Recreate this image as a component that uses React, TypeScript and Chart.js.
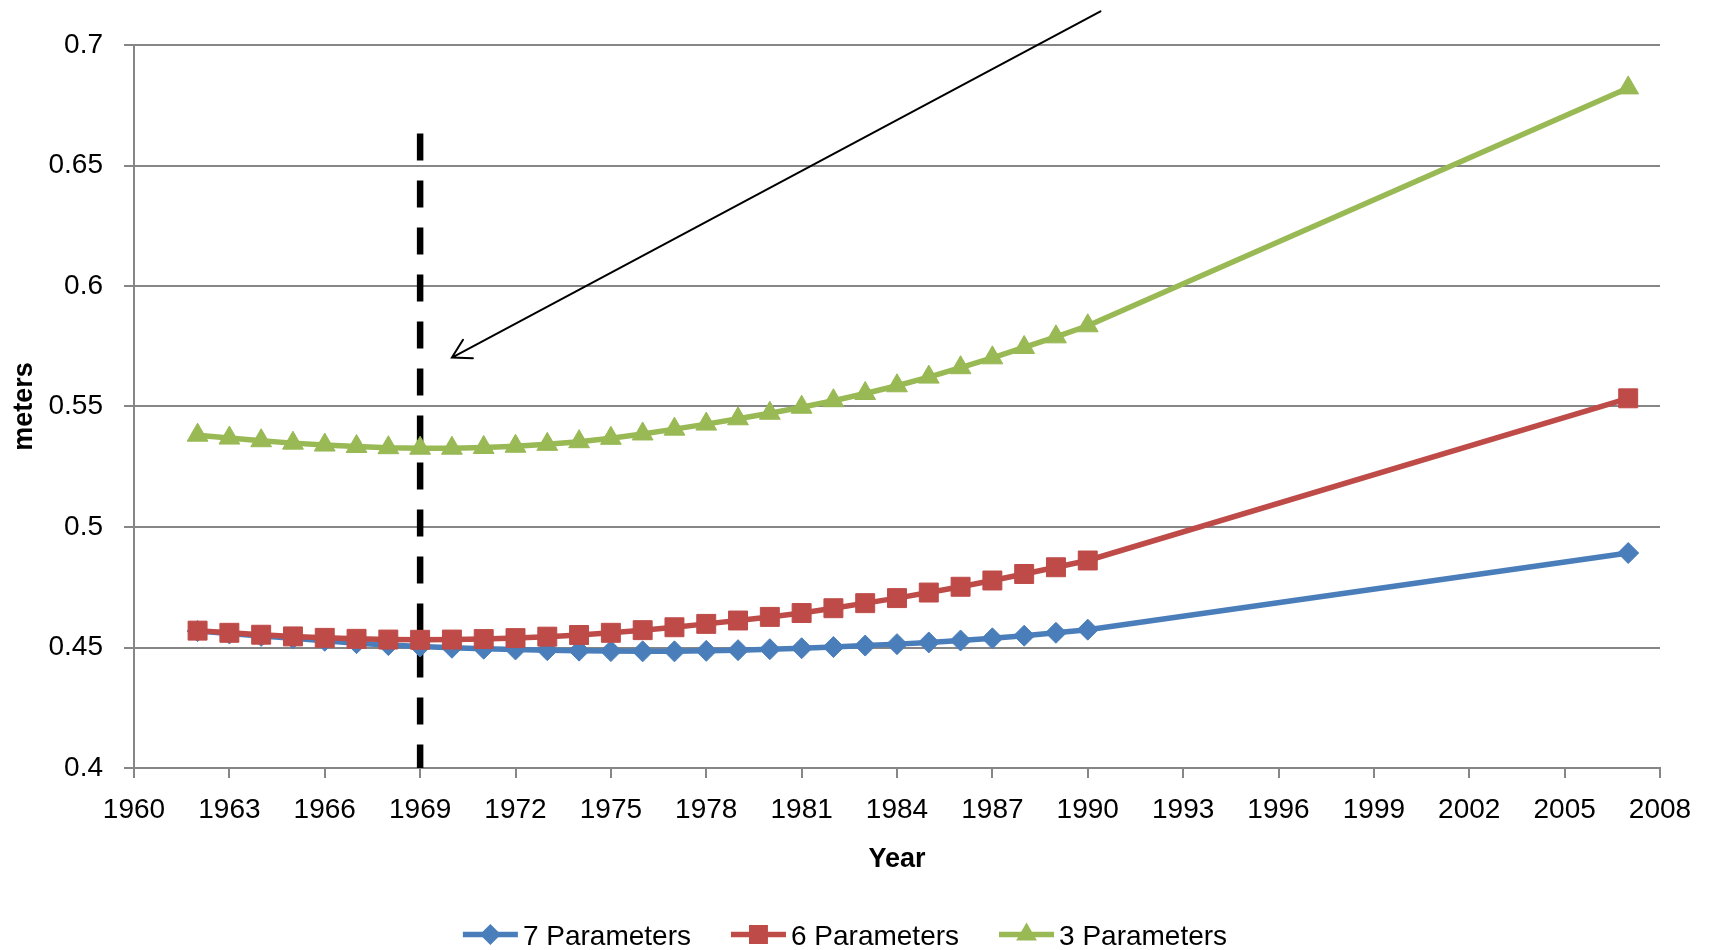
import React, { useEffect, useRef } from 'react';
import { Chart, registerables } from 'chart.js';

Chart.register(...registerables);

// Sample years (annual to 1990, then 2007)
const years = [
  1962, 1963, 1964, 1965, 1966, 1967, 1968, 1969, 1970, 1971,
  1972, 1973, 1974, 1975, 1976, 1977, 1978, 1979, 1980, 1981,
  1982, 1983, 1984, 1985, 1986, 1987, 1988, 1989, 1990, 2007,
];

const params7 = [
  0.4568, 0.4558, 0.4548, 0.4538, 0.4528, 0.4518, 0.4510, 0.4504, 0.4499, 0.4495,
  0.4492, 0.4489, 0.4487, 0.4485, 0.4484, 0.4484, 0.4486, 0.4489, 0.4493, 0.4497,
  0.4502, 0.4508, 0.4514, 0.4521, 0.4529, 0.4538, 0.4549, 0.4561, 0.4574, 0.4892,
];

const params6 = [
  0.4570, 0.4561, 0.4553, 0.4546, 0.4540, 0.4536, 0.4533, 0.4532, 0.4533, 0.4535,
  0.4539, 0.4545, 0.4552, 0.4561, 0.4572, 0.4584, 0.4598, 0.4612, 0.4627, 0.4643,
  0.4663, 0.4684, 0.4705, 0.4728, 0.4752, 0.4778, 0.4805, 0.4833, 0.4861, 0.5534,
];

const params3 = [
  0.5381, 0.5369, 0.5358, 0.5348, 0.5340, 0.5334, 0.5329, 0.5327, 0.5327, 0.5330,
  0.5335, 0.5343, 0.5354, 0.5368, 0.5386, 0.5406, 0.5427, 0.5449, 0.5472, 0.5497,
  0.5524, 0.5554, 0.5586, 0.5622, 0.5661, 0.5702, 0.5745, 0.5789, 0.5835, 0.6822,
];

const seriesNames = ['7 Parameters', '6 Parameters', '3 Parameters'];
const seriesColors = ['#4A7EBB', '#BE4B48', '#98B954'];
const seriesMarkers = ['rectRot', 'rect', 'triangle'];
const markerRadius = [10.5, 13.4, 12];

// Axis ranges
const xMin = 1960;
const xMax = 2008;
const xStep = 3;
const yMin = 0.4;
const yMax = 0.7;
const yStep = 0.05;

// Reference year marker (dashed) and the pointer arrow, in data units
const refYear = 1969;
const refLineTop = 0.6633;
const arrowFrom = { x: 1990.4, y: 0.714 };
const arrowTo = { x: 1970.0, y: 0.5703 };

const FONT = "'Liberation Sans', Arial, sans-serif";
const GRID = '#868686';
const LINE_WIDTH = 5.5;

function drawMarker(ctx: CanvasRenderingContext2D, style: string, x: number, y: number, r: number, color: string) {
  ctx.beginPath();
  if (style === 'rectRot') {
    ctx.moveTo(x - r, y);
    ctx.lineTo(x, y - r);
    ctx.lineTo(x + r, y);
    ctx.lineTo(x, y + r);
    ctx.closePath();
  } else if (style === 'rect') {
    const s = Math.SQRT1_2 * r;
    ctx.rect(x - s, y - s, 2 * s, 2 * s);
  } else {
    const w = r * Math.sin((2 * Math.PI) / 3);
    ctx.moveTo(x, y - r);
    ctx.lineTo(x + w, y + r / 2);
    ctx.lineTo(x - w, y + r / 2);
    ctx.closePath();
  }
  ctx.fillStyle = color;
  ctx.fill();
}

// Dashed vertical line at the reference year, drawn under the series
const refLinePlugin = {
  id: 'refLine',
  beforeDatasetsDraw(chart: any) {
    const { ctx, scales } = chart;
    const x = scales.x.getPixelForValue(refYear);
    const yTop = scales.y.getPixelForValue(refLineTop);
    const yBottom = scales.y.getPixelForValue(yMin);
    ctx.save();
    ctx.strokeStyle = '#000000';
    ctx.lineWidth = 6.5;
    ctx.setLineDash([27, 20]);
    ctx.beginPath();
    ctx.moveTo(x, yTop);
    ctx.lineTo(x, yBottom);
    ctx.stroke();
    ctx.restore();
  },
};

// Thin pointer arrow with an open head
const arrowPlugin = {
  id: 'pointerArrow',
  afterDatasetsDraw(chart: any) {
    const { ctx, scales } = chart;
    const x1 = scales.x.getPixelForValue(arrowFrom.x);
    const y1 = scales.y.getPixelForValue(arrowFrom.y);
    const x2 = scales.x.getPixelForValue(arrowTo.x);
    const y2 = scales.y.getPixelForValue(arrowTo.y);
    const ang = Math.atan2(y1 - y2, x1 - x2);
    const head = 21;
    const spread = (30 * Math.PI) / 180;
    ctx.save();
    ctx.strokeStyle = '#000000';
    ctx.lineWidth = 2;
    ctx.lineCap = 'round';
    ctx.beginPath();
    ctx.moveTo(x1, y1);
    ctx.lineTo(x2, y2);
    ctx.moveTo(x2 + head * Math.cos(ang - spread), y2 + head * Math.sin(ang - spread));
    ctx.lineTo(x2, y2);
    ctx.lineTo(x2 + head * Math.cos(ang + spread), y2 + head * Math.sin(ang + spread));
    ctx.stroke();
    ctx.restore();
  },
};

// Legend row along the bottom: line sample with marker, then the series name
const legendPlugin = {
  id: 'bottomLegend',
  afterDraw(chart: any) {
    const { ctx } = chart;
    const iconW = 55;
    const iconGap = 5;
    const itemGap = 40;
    const baseline = 945;
    const midY = 934.5;
    ctx.save();
    ctx.font = `28px ${FONT}`;
    const widths = seriesNames.map((n) => ctx.measureText(n).width);
    const total = widths.reduce((a, w) => a + iconW + iconGap + w, 0) + itemGap * (seriesNames.length - 1);
    let x = 845 - total / 2;
    seriesNames.forEach((name, i) => {
      ctx.strokeStyle = seriesColors[i];
      ctx.lineWidth = LINE_WIDTH;
      ctx.beginPath();
      ctx.moveTo(x, midY);
      ctx.lineTo(x + iconW, midY);
      ctx.stroke();
      drawMarker(ctx, seriesMarkers[i], x + iconW / 2, midY, markerRadius[i], seriesColors[i]);
      ctx.fillStyle = '#000000';
      ctx.textAlign = 'left';
      ctx.textBaseline = 'alphabetic';
      ctx.fillText(name, x + iconW + iconGap, baseline);
      x += iconW + iconGap + widths[i] + itemGap;
    });
    ctx.restore();
  },
};

export default function App() {
  const canvasRef = useRef<HTMLCanvasElement | null>(null);

  useEffect(() => {
    const canvas = canvasRef.current;
    if (!canvas) return;
    const seriesValues = [params7, params6, params3];
    const chart = new Chart(canvas, {
      type: 'line',
      data: {
        datasets: seriesValues.map((vals, i) => ({
          label: seriesNames[i],
          data: years.map((yr, k) => ({ x: yr, y: vals[k] })),
          borderColor: seriesColors[i],
          backgroundColor: seriesColors[i],
          borderWidth: LINE_WIDTH,
          pointStyle: seriesMarkers[i] as any,
          pointRadius: markerRadius[i],
          pointHoverRadius: markerRadius[i],
          pointBorderWidth: 1,
          pointBorderColor: seriesColors[i],
          pointBackgroundColor: seriesColors[i],
          tension: 0,
          fill: false,
          order: 3 - i,
        })),
      },
      options: {
        responsive: false,
        animation: false,
        devicePixelRatio: 1,
        events: [],
        layout: { padding: { top: 45, right: 49, bottom: 60, left: 0 } },
        plugins: {
          legend: { display: false },
          tooltip: { enabled: false },
        },
        scales: {
          x: {
            type: 'linear',
            min: xMin,
            max: xMax,
            afterFit(scale: any) {
              scale.height = 122;
            },
            ticks: {
              stepSize: xStep,
              autoSkip: false,
              maxRotation: 0,
              padding: 15,
              color: '#000000',
              font: { family: FONT, size: 28 },
              callback: (v: any) => String(v),
            },
            grid: {
              display: true,
              drawOnChartArea: false,
              drawTicks: true,
              tickLength: 10,
              color: GRID,
              lineWidth: 2,
            },
            border: { display: true, color: GRID, width: 2 },
            title: {
              display: true,
              text: 'Year',
              color: '#000000',
              font: { family: FONT, size: 27, weight: 'bold' },
              padding: { top: 0, bottom: 14 },
            },
          },
          y: {
            type: 'linear',
            min: yMin,
            max: yMax,
            afterFit(scale: any) {
              scale.width = 134;
            },
            ticks: {
              stepSize: yStep,
              padding: 21,
              color: '#000000',
              font: { family: FONT, size: 28 },
              callback: (v: any) => Number(v).toFixed(2).replace(/0$/, ''),
            },
            grid: {
              color: GRID,
              lineWidth: 2,
              tickLength: 10,
              drawTicks: true,
            },
            border: { display: true, color: GRID, width: 2 },
            title: {
              display: true,
              text: 'meters',
              color: '#000000',
              font: { family: FONT, size: 27, weight: 'bold' },
              padding: { top: 8, bottom: 0 },
            },
          },
        },
      },
      plugins: [refLinePlugin, arrowPlugin, legendPlugin],
    } as any);
    return () => chart.destroy();
  }, []);

  return (
    <div style={{ position: 'absolute', left: 0, top: 0, width: 1709, height: 950, background: '#ffffff' }}>
      <canvas ref={canvasRef} width={1709} height={950} style={{ display: 'block' }} />
    </div>
  );
}
